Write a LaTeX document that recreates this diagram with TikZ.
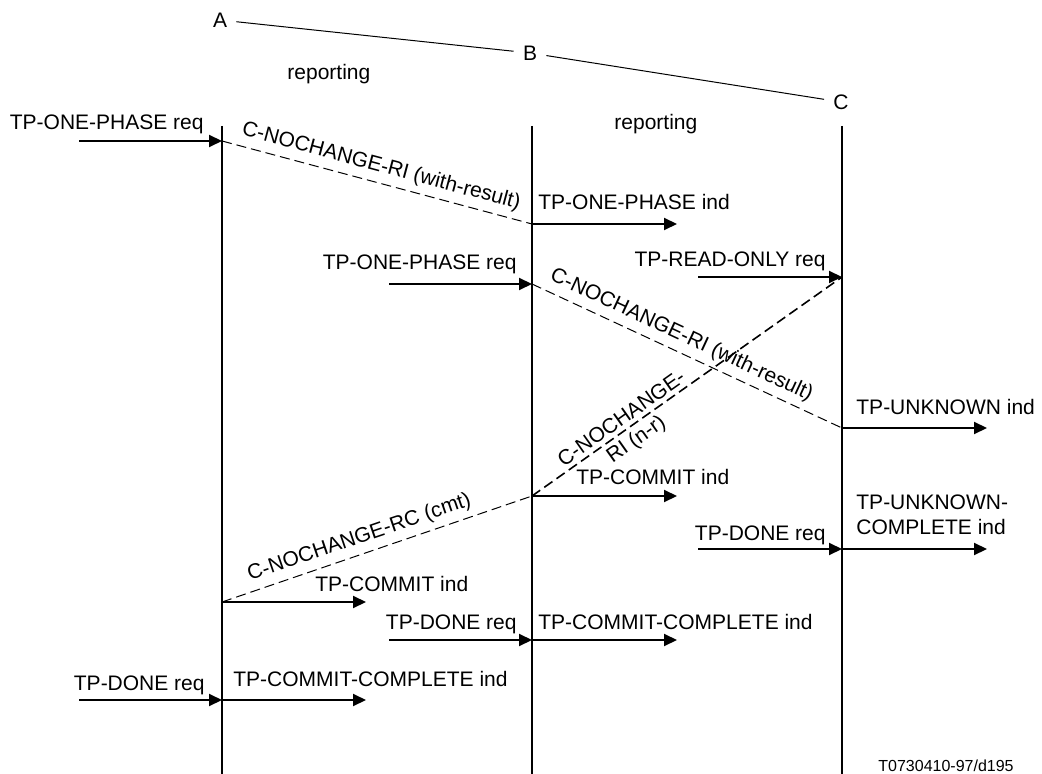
\documentclass[tikz,border=0pt]{standalone}
\usepackage{fontspec}
\setmainfont{Liberation Sans}
\usetikzlibrary{arrows.meta, positioning, calc}

\begin{document}
\begin{tikzpicture}[
  x=0.5pt, y=-0.5pt,
  font=\fontsize{10.5}{12.5}\selectfont,
  life/.style={line width=1pt},
  msg/.style={line width=1pt, -{Triangle[length=6.5pt, width=6pt]}},
  pdu/.style={line width=0.5pt, dash pattern=on 5pt off 2.5pt},
  lbl/.style={inner sep=0pt},
  tag/.style={inner sep=3pt, sloped},
  ent/.style={inner xsep=4.5pt, inner ysep=1pt}
]
\useasboundingbox (0,0) rectangle (1042,774);

% entities
\node[ent] (A) at (220,20) {A};
\node[ent] (B) at (530,53) {B};
\node[ent] (C) at (841,102) {C};
\draw[line width=0.5pt] (A) -- (B);
\draw[line width=0.5pt] (B) -- (C);
\node[lbl, anchor=base west] (rep1) at (287,80) {reporting};
\node[lbl, anchor=base west] (rep2) at (614,130) {reporting};

% lifelines
\coordinate (Atop) at (222,126); \coordinate (Abot) at (222,774);
\coordinate (Btop) at (532,126); \coordinate (Bbot) at (532,774);
\coordinate (Ctop) at (842,126); \coordinate (Cbot) at (842,774);
\draw[life] (Atop) -- (Abot);
\draw[life] (Btop) -- (Bbot);
\draw[life] (Ctop) -- (Cbot);

% points on the lifelines
\coordinate (a1) at (222,141);
\coordinate (a2) at (222,602);
\coordinate (a3) at (222,700);
\coordinate (b1) at (532,224);
\coordinate (b2) at (532,284);
\coordinate (b3) at (532,496);
\coordinate (b4) at (532,640);
\coordinate (c1) at (842,277);
\coordinate (c2) at (842,428);
\coordinate (c3) at (842,549);

% free ends of the primitives
\coordinate (s1) at ($(a1)+(-143,0)$);
\coordinate (s2) at ($(b1)+(145,0)$);
\coordinate (s3) at ($(b2)+(-143,0)$);
\coordinate (s4) at ($(c1)+(-144,0)$);
\coordinate (s5) at ($(c2)+(145,0)$);
\coordinate (s6) at ($(b3)+(145,0)$);
\coordinate (s7) at ($(a2)+(144,0)$);
\coordinate (s8) at ($(c3)+(-144,0)$);
\coordinate (s9) at ($(c3)+(145,0)$);
\coordinate (s10) at ($(b4)+(-143,0)$);
\coordinate (s11) at ($(b4)+(145,0)$);
\coordinate (s12) at ($(a3)+(-143,0)$);
\coordinate (s13) at ($(a3)+(144,0)$);

% service primitives
\draw[msg] (s1) -- (a1);
\draw[msg] (b1) -- (s2);
\draw[msg] (s3) -- (b2);
\draw[msg] (s4) -- (c1);
\draw[msg] (c2) -- (s5);
\draw[msg] (b3) -- (s6);
\draw[msg] (a2) -- (s7);
\draw[msg] (s8) -- (c3);
\draw[msg] (c3) -- (s9);
\draw[msg] (s10) -- (b4);
\draw[msg] (b4) -- (s11);
\draw[msg] (s12) -- (a3);
\draw[msg] (a3) -- (s13);

\node[lbl, anchor=base east] (p1) at ($(a1)+(-18,-11)$) {TP-ONE-PHASE req};
\node[lbl, anchor=base west] (p2) at ($(b1)+(6,-14)$) {TP-ONE-PHASE ind};
\node[lbl, anchor=base east] (p3) at ($(b2)+(-15,-14)$) {TP-ONE-PHASE req};
\node[lbl, anchor=base east] (p4) at ($(c1)+(-16,-10)$) {TP-READ-ONLY req};
\node[lbl, anchor=base west] (p5) at ($(c2)+(14,-13)$) {TP-UNKNOWN ind};
\node[lbl, anchor=base west] (p6) at ($(b3)+(44,-12)$) {TP-COMMIT ind};
\node[lbl, anchor=base west] (p7) at ($(a2)+(93,-11)$) {TP-COMMIT ind};
\node[lbl, anchor=base east] (p8) at ($(c3)+(-16,-9)$) {TP-DONE req};
\node[lbl, anchor=south west, align=left] (p9) at ($(c3)+(14,-14)$) {TP-UNKNOWN-\\COMPLETE ind};
\node[lbl, anchor=base east] (p10) at ($(b4)+(-15,-11)$) {TP-DONE req};
\node[lbl, anchor=base west] (p11) at ($(b4)+(6,-11)$) {TP-COMMIT-COMPLETE ind};
\node[lbl, anchor=base east] (p12) at ($(a3)+(-17,-10)$) {TP-DONE req};
\node[lbl, anchor=base west] (p13) at ($(a3)+(11,-14)$) {TP-COMMIT-COMPLETE ind};

% protocol data units
\draw[pdu] (a1) -- node[tag, above, midway] (d1) {C-NOCHANGE-RI (with-result)} (b1);
\draw[pdu] (b2) -- node[tag, above, pos=0.46] (d2) {C-NOCHANGE-RI (with-result)} (c2);
\draw[pdu, line width=0.8pt] (b3) -- node[tag, pos=0.31, align=center, yshift=-1.2pt] (d3) {C-NOCHANGE-\\RI (n-r)} (c1);
\draw[pdu] (a2) -- node[tag, above, pos=0.46] (d4) {C-NOCHANGE-RC (cmt)} (b3);

\node[lbl, anchor=base west, font=\fontsize{8}{9.6}\selectfont] (fig) at (878,771) {T0730410-97/d195};
\end{tikzpicture}
\end{document}
